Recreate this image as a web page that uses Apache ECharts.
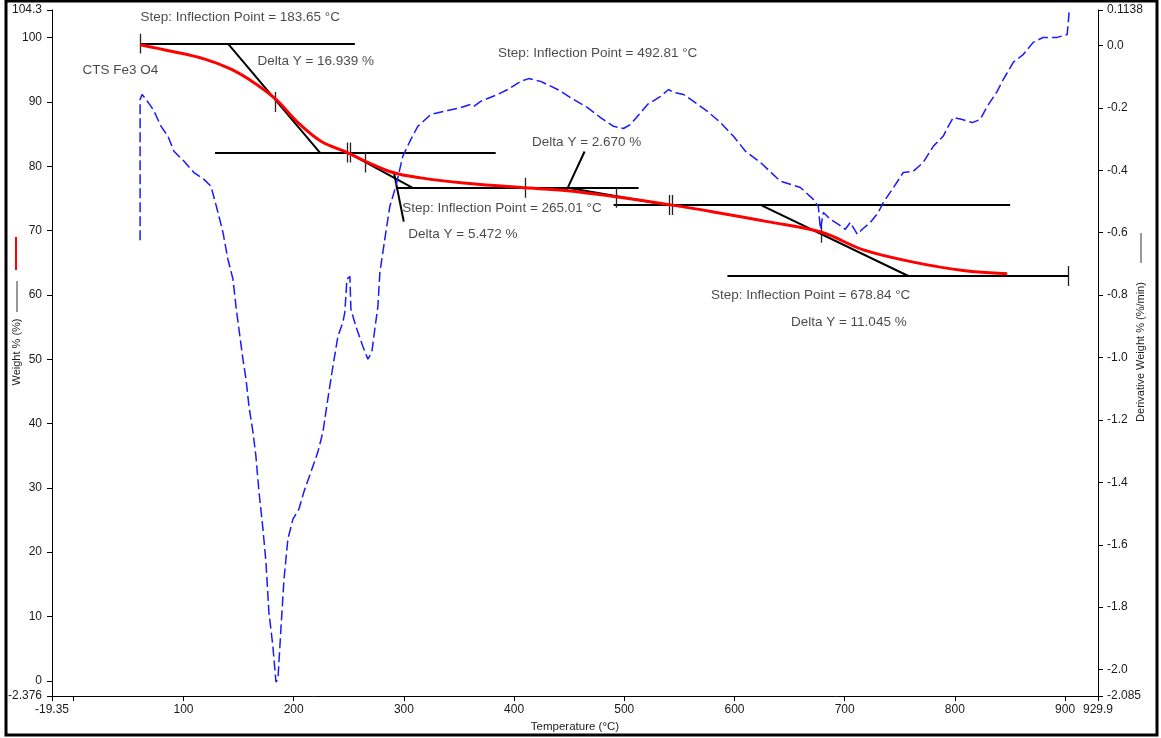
<!DOCTYPE html>
<html>
<head>
<meta charset="utf-8">
<title>CTS Fe3 O4 TGA</title>
<script src="https://cdn.jsdelivr.net/npm/echarts@6/dist/echarts.min.js"></script>
<style>
  html, body { margin: 0; padding: 0; background: #fff; }
  #chart { width: 1161px; height: 738px; }
</style>
</head>
<body>
<div id="chart"></div>
<script>
// Weight % vs temperature (°C)
const weightTemp = [60.6, 88.7, 118.6, 143.1, 164.0, 183.9, 203.8, 224.7, 249.1, 267.3, 290.8, 315.3,
  354.3, 405.9, 448.6, 490.3, 541.9, 581.0, 629.9, 679.8, 717.0, 762.3, 807.6, 847.5];
const weightPct = [98.9, 97.9, 96.7, 95.1, 93.0, 90.4, 86.8, 83.9, 82.1, 80.6, 79.0, 78.2,
  77.4, 76.7, 76.2, 75.3, 74.0, 72.9, 71.4, 69.7, 67.0, 65.1, 63.8, 63.3];

// Derivative weight (%/min) vs temperature (°C)
const derivTemp = [60.6, 60.6, 62.4, 66.0, 70.5, 73.3, 79.6, 85.9, 91.3, 100.5, 109.5, 118.6, 124.9,
  131.3, 135.8, 140.3, 144.9, 147.6, 150.3, 153.9, 156.7, 159.4, 163.0, 165.7, 168.5, 172.1, 174.8,
  177.5, 181.1, 183.9, 185.7, 188.4, 191.2, 194.7, 199.3, 204.7, 209.2, 215.6, 221.9, 226.5, 229.2,
  231.9, 235.6, 240.1, 244.6, 246.4, 248.3, 251.0, 251.9, 256.4, 262.7, 267.3, 270.9, 273.6, 276.4,
  278.2, 280.9, 283.6, 287.2, 292.7, 299.0, 306.3, 312.6, 324.4, 339.8, 351.6, 360.6, 363.4, 369.7,
  385.1, 394.2, 405.9, 413.2, 424.1, 439.5, 451.3, 466.7, 478.5, 490.3, 499.3, 505.7, 512.0, 521.1,
  532.9, 540.2, 544.7, 553.8, 562.8, 575.5, 587.3, 599.1, 610.0, 623.6, 641.7, 659.8, 671.6, 676.1,
  678.0, 680.7, 687.0, 694.3, 700.6, 705.1, 711.5, 716.0, 723.3, 730.5, 735.1, 743.2, 753.2, 762.3,
  771.3, 780.4, 789.4, 794.0, 798.5, 806.7, 815.8, 823.0, 829.4, 838.4, 843.9, 853.0, 862.0, 871.1,
  880.2, 892.8, 901.9, 903.7];
const derivRate = [-0.624, -0.173, -0.157, -0.173, -0.195, -0.211, -0.259, -0.291, -0.339, -0.371, -0.407, -0.429, -0.451,
  -0.535, -0.599, -0.685, -0.749, -0.836, -0.909, -1.005, -1.069, -1.156, -1.239, -1.316, -1.431, -1.550, -1.655,
  -1.816, -1.925, -2.040, -2.030, -1.870, -1.710, -1.582, -1.518, -1.486, -1.431, -1.367, -1.303, -1.239, -1.175,
  -1.111, -1.028, -0.932, -0.887, -0.855, -0.749, -0.740, -0.845, -0.900, -0.964, -1.005, -0.983, -0.909, -0.836,
  -0.727, -0.663, -0.599, -0.516, -0.451, -0.355, -0.301, -0.259, -0.221, -0.208, -0.199, -0.189, -0.195, -0.179,
  -0.157, -0.141, -0.115, -0.106, -0.115, -0.141, -0.167, -0.199, -0.231, -0.259, -0.266, -0.253, -0.227, -0.189,
  -0.163, -0.141, -0.150, -0.157, -0.179, -0.211, -0.247, -0.291, -0.339, -0.375, -0.435, -0.455, -0.493, -0.516,
  -0.589, -0.535, -0.557, -0.573, -0.589, -0.567, -0.605, -0.589, -0.567, -0.535, -0.503, -0.461, -0.407, -0.403,
  -0.375, -0.323, -0.291, -0.259, -0.231, -0.237, -0.247, -0.237, -0.195, -0.147, -0.109, -0.054, -0.029, 0.010,
  0.026, 0.026, 0.035, 0.106];

// Step analysis results
const stepInflection = [183.65, 265.01, 492.81, 678.84];   // °C
const stepDelta = [16.939, 5.472, 2.670, 11.045];          // %
const firstLevel = 99.07;                                   // % at start of step 1
// baseline spans (°C) for each level, top to bottom
const baseFrom = [60.6, 128.6, 292.7, 490.3, 593.6];
const baseTo = [255.5, 383.3, 513.0, 850.2, 902.8];
// tangent spans (°C) between consecutive levels
const tangentFrom = [140.3, 249.1, 448.6, 623.6];
const tangentTo = [223.8, 308.0, 539.3, 757.8];

// marker ticks (°C, centre weight %)
const markTemp = [60.6, 183.65, 248.9, 251.2, 265.01, 410.5, 492.81, 541.0, 543.7, 678.84, 902.8];
const markWeight = [99.07, 90.0, 82.13, 82.13, 80.6, 76.66, 75.1, 73.99, 73.99, 69.65, 62.94];

// leader lines from delta labels to the curve
const leaderTemp = [[290.8, 299.9], [464.0, 447.7]];
const leaderWeight = [[79.2, 71.4], [82.3, 76.3]];

// Text anchors (°C, weight %)
const sampleName = 'CTS Fe3 O4';
const inflTextTemp = [60.6, 298.1, 384.9, 578.2];
const inflTextWeight = [103.1, 73.4, 97.5, 59.9];
const deltaTextTemp = [166.6, 303.5, 415.9, 650.8];
const deltaTextWeight = [96.3, 69.4, 83.7, 55.8];
const sampleTextPos = [7.9, 94.9];

// Axis tick labels
const xLabels = ['-19.35', '100', '200', '300', '400', '500', '600', '700', '800', '900', '929.9'];
const xTicks = [-19.35, 0, 100, 200, 300, 400, 500, 600, 700, 800, 900, 929.9];
const yLeftLabels = ['104.3', '100', '90', '80', '70', '60', '50', '40', '30', '20', '10', '0', '-2.376'];
const yRightLabels = ['0.1138', '0.0', '-0.2', '-0.4', '-0.6', '-0.8', '-1.0', '-1.2', '-1.4', '-1.6', '-1.8', '-2.0', '-2.085'];

const FONT = 'Liberation Sans, Arial, sans-serif';
const TXT = '#1a1a1a';

const levels = [firstLevel];
stepDelta.forEach(d => levels.push(+(levels[levels.length - 1] - d).toFixed(3)));

const segMain = [];
baseFrom.forEach((t, i) => segMain.push([[t, levels[i]], [baseTo[i], levels[i]]]));
tangentFrom.forEach((t, i) => segMain.push([[t, levels[i]], [tangentTo[i], levels[i + 1]]]));
leaderTemp.forEach((ts, i) => segMain.push([[ts[0], leaderWeight[i][0]], [ts[1], leaderWeight[i][1]]]));

const segMarks = markTemp.map((t, i) => [[t, markWeight[i] + 1.55], [t, markWeight[i] - 1.55]]);

const notes = [];
notes.push({ value: sampleTextPos, name: sampleName });
stepInflection.forEach((v, i) => notes.push({
  value: [inflTextTemp[i], inflTextWeight[i]],
  name: 'Step: Inflection Point = ' + v.toFixed(2) + ' °C'
}));
stepDelta.forEach((v, i) => notes.push({
  value: [deltaTextTemp[i], deltaTextWeight[i]],
  name: 'Delta Y = ' + v.toFixed(3) + ' %'
}));

function labelFor(list) {
  const nums = list.map(Number);
  return v => {
    for (let i = 0; i < nums.length; i++) {
      if (Math.abs(nums[i] - v) < 1e-6) return list[i];
    }
    return '';
  };
}

const chart = echarts.init(document.getElementById('chart'), null, { renderer: 'canvas' });

const axisCommon = {
  axisLine: { show: true, onZero: false, lineStyle: { color: '#000', width: 1 } },
  splitLine: { show: false },
  axisTick: { show: true, inside: false, length: 5, lineStyle: { color: '#000', width: 1 } }
};

chart.setOption({
  animation: false,
  backgroundColor: '#fff',
  textStyle: { fontFamily: FONT },
  grid: { left: 52, right: 63, top: 10, bottom: 41, containLabel: false },
  xAxis: Object.assign({}, axisCommon, {
    type: 'value',
    min: -19.35,
    max: 929.9,
    name: 'Temperature (°C)',
    nameLocation: 'middle',
    nameGap: 24,
    nameTextStyle: { fontSize: 11.5, color: TXT, fontFamily: FONT },
    axisTick: Object.assign({}, axisCommon.axisTick, { customValues: xTicks }),
    axisLabel: {
      customValues: xLabels.map(Number),
      formatter: labelFor(xLabels),
      fontSize: 12, color: TXT, fontFamily: FONT, margin: 8
    }
  }),
  yAxis: [
    Object.assign({}, axisCommon, {
      type: 'value',
      position: 'left',
      min: -2.376,
      max: 104.3,
      axisTick: Object.assign({}, axisCommon.axisTick, { customValues: yLeftLabels.map(Number) }),
      axisLabel: {
        customValues: yLeftLabels.map(Number),
        formatter: labelFor(yLeftLabels),
        fontSize: 12, color: TXT, fontFamily: FONT, margin: 10
      }
    }),
    Object.assign({}, axisCommon, {
      type: 'value',
      position: 'right',
      min: -2.085,
      max: 0.1138,
      axisTick: Object.assign({}, axisCommon.axisTick, { customValues: yRightLabels.map(Number) }),
      axisLabel: {
        customValues: yRightLabels.map(Number),
        formatter: labelFor(yRightLabels),
        fontSize: 12, color: TXT, fontFamily: FONT, margin: 9
      }
    })
  ],
  series: [
    {
      name: 'step lines',
      type: 'lines',
      coordinateSystem: 'cartesian2d',
      silent: true,
      z: 2,
      lineStyle: { color: '#000', width: 2, opacity: 1 },
      data: segMain.map(c => ({ coords: c }))
    },
    {
      name: 'step marks',
      type: 'lines',
      coordinateSystem: 'cartesian2d',
      silent: true,
      z: 2,
      lineStyle: { color: '#222', width: 1.3, opacity: 1 },
      data: segMarks.map(c => ({ coords: c }))
    },
    {
      name: 'Weight %',
      type: 'line',
      yAxisIndex: 0,
      z: 3,
      smooth: 0.35,
      symbol: 'none',
      lineStyle: { color: '#ff0000', width: 3 },
      data: weightTemp.map((t, i) => [t, weightPct[i]])
    },
    {
      name: 'Derivative Weight %',
      type: 'line',
      yAxisIndex: 1,
      z: 4,
      symbol: 'none',
      lineStyle: { color: '#1a1aff', width: 1.5, type: [10, 4] },
      data: derivTemp.map((t, i) => [t, derivRate[i]])
    },
    {
      name: 'notes',
      type: 'scatter',
      yAxisIndex: 0,
      z: 5,
      silent: true,
      symbolSize: 1,
      itemStyle: { color: 'rgba(0,0,0,0)' },
      label: {
        show: true, position: 'right', distance: 0, formatter: '{b}',
        fontSize: 13.5, color: TXT, fontFamily: FONT
      },
      data: notes
    }
  ],
  graphic: [
    { type: 'rect', silent: true, shape: { x: 6, y: 1, width: 1151, height: 734 },
      style: { fill: 'none', stroke: '#000', lineWidth: 3 } },
    { type: 'line', silent: true, shape: { x1: 16, y1: 237, x2: 16, y2: 270 },
      style: { stroke: '#ff0000', lineWidth: 2 } },
    { type: 'line', silent: true, shape: { x1: 17, y1: 281, x2: 17, y2: 312 },
      style: { stroke: '#333', lineWidth: 1 } },
    { type: 'text', silent: true, x: 17, y: 352, rotation: Math.PI / 2,
      style: { text: 'Weight % (%)', align: 'center', verticalAlign: 'middle', fill: TXT, font: '11px ' + FONT } },
    { type: 'text', silent: true, x: 1141, y: 352, rotation: Math.PI / 2,
      style: { text: 'Derivative Weight % (%/min)', align: 'center', verticalAlign: 'middle', fill: TXT, font: '11px ' + FONT } },
    { type: 'line', silent: true, shape: { x1: 1141, y1: 233, x2: 1141, y2: 263 },
      style: { stroke: '#333', lineWidth: 1 } }
  ]
});
</script>
</body>
</html>
